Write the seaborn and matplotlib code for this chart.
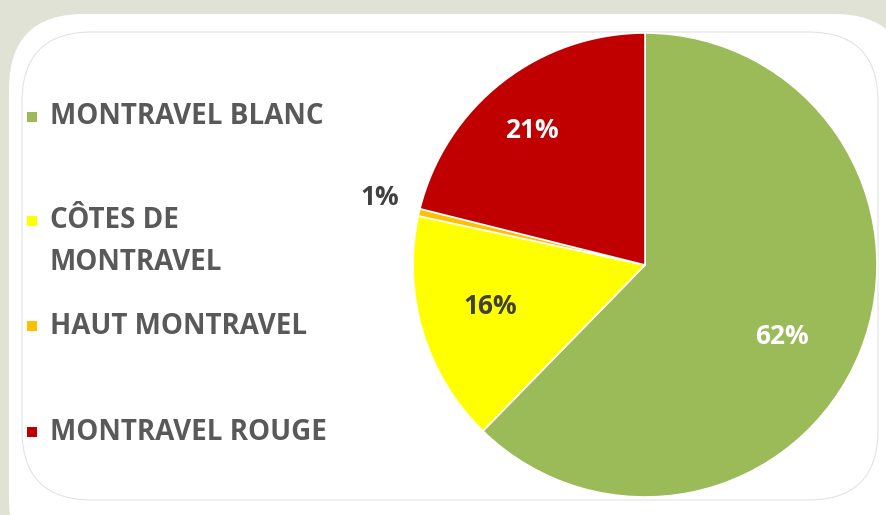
import matplotlib
matplotlib.use("Agg")
import matplotlib.pyplot as plt
import seaborn as sns
from matplotlib.patches import FancyBboxPatch, Rectangle

sns.set_theme(style="white")
plt.rcParams['font.family'] = ['Open Sans', 'DejaVu Sans']

# data
categories = ['MONTRAVEL BLANC', 'CÔTES DE\nMONTRAVEL', 'HAUT MONTRAVEL', 'MONTRAVEL ROUGE']
shares = [62, 16, 0.5, 21]
pct_labels = ['62%', '16%', '1%', '21%']
colors = ['#9bbb59', '#ffff00', '#ffc000', '#c00000']
pct_colors = ['white', '#404040', '#404040', 'white']

W, H = 887, 515
fig = plt.figure(figsize=(W / 100, H / 100), dpi=100)
fig.patch.set_facecolor('#dfe2d4')

# background panel, drawn in pixel coordinates
bg = fig.add_axes([0, 0, 1, 1], zorder=-1)
bg.set_xlim(0, W)
bg.set_ylim(H, 0)
bg.axis('off')
bg.add_patch(FancyBboxPatch((9, 14), 900, 560, boxstyle="round,pad=0,rounding_size=75",
                            facecolor='white', edgecolor='none'))
bg.add_patch(FancyBboxPatch((22, 32), 856, 468, boxstyle="round,pad=0,rounding_size=70",
                            facecolor='none', edgecolor='#e3e3e3', lw=0.8))

# pie
cx, cy, r = 645, 265, 232
ax = fig.add_axes([(cx - r) / W, (H - cy - r) / H, 2 * r / W, 2 * r / H])
wedges, _ = ax.pie(shares, colors=colors, startangle=90, counterclock=False,
                   wedgeprops=dict(edgecolor='white', linewidth=1.2))
ax.set_aspect('equal')
ax.set_xlim(-1, 1)
ax.set_ylim(-1, 1)
ax.axis('off')

label_pos = [(0.59, -0.31), (-0.668, -0.181), (-1.142, 0.289), (-0.487, 0.578)]
for lab, (x, y), c in zip(pct_labels, label_pos, pct_colors):
    ax.text(x, y, lab, ha='center', va='center', fontsize=19,
            fontweight='bold', color=c, clip_on=False)

# legend
legend_y = [117, 221, 326, 432]
for cat, col, y in zip(categories, colors, legend_y):
    bg.add_patch(Rectangle((27, y - 5), 10, 10, facecolor=col, edgecolor='none'))
    lines = cat.split('\n')
    for i, line in enumerate(lines):
        bg.text(50, y + 42 * i, line, ha='left', va='center', fontsize=20,
                fontweight='bold', color='#595959')

fig.savefig('out.png', dpi=100, facecolor=fig.get_facecolor())
